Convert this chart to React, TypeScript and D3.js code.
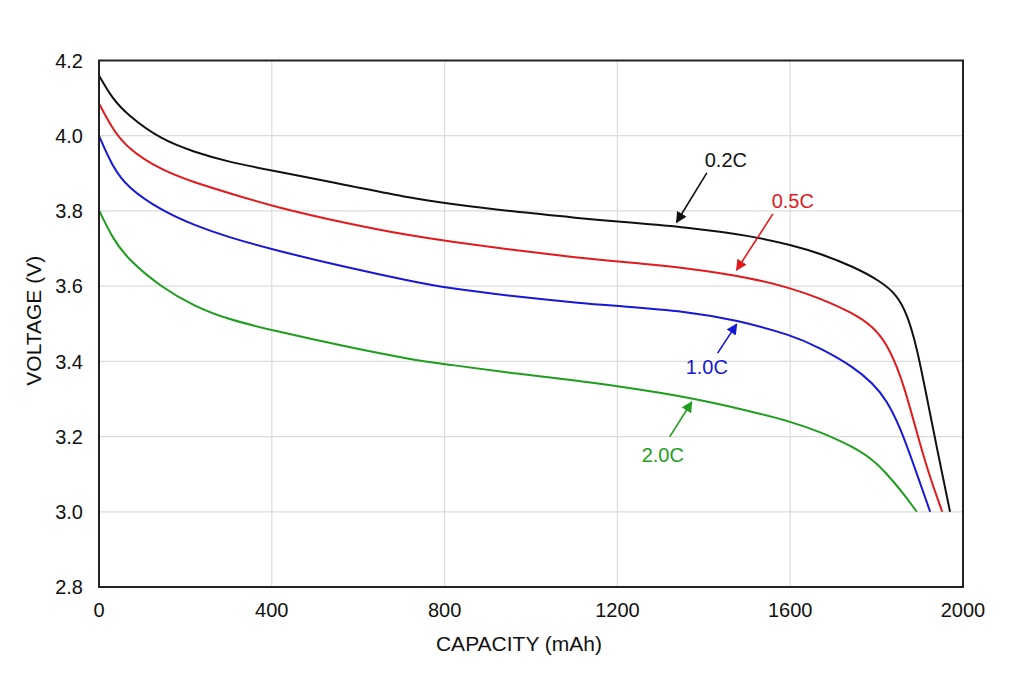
import React from 'react';
import * as d3 from 'd3';

// discharge curves, capacity in mAh vs voltage in V
const capacity02 = [0, 30, 66, 143, 220, 297, 406, 572, 726, 806, 958, 1112, 1205, 1360, 1514, 1603, 1669, 1746, 1808, 1846, 1870, 1893, 1916, 1939, 1970];
const voltage02 = [4.16, 4.1, 4.055, 3.99, 3.957, 3.931, 3.906, 3.869, 3.833, 3.82, 3.798, 3.781, 3.771, 3.757, 3.733, 3.709, 3.687, 3.652, 3.614, 3.578, 3.528, 3.439, 3.306, 3.173, 3.0];

const capacity05 = [0, 30, 66, 143, 220, 297, 406, 572, 726, 806, 958, 1112, 1205, 1360, 1514, 1603, 1669, 1746, 1792, 1823, 1854, 1877, 1900, 1923, 1952];
const voltage05 = [4.086, 4.02, 3.966, 3.909, 3.876, 3.849, 3.811, 3.767, 3.733, 3.72, 3.696, 3.675, 3.665, 3.649, 3.621, 3.594, 3.568, 3.528, 3.492, 3.448, 3.368, 3.279, 3.182, 3.093, 3.0];

const capacity10 = [0, 30, 66, 143, 220, 297, 406, 572, 726, 806, 958, 1112, 1205, 1360, 1475, 1603, 1669, 1746, 1792, 1823, 1854, 1885, 1924];
const voltage10 = [4.0, 3.92, 3.862, 3.802, 3.762, 3.731, 3.696, 3.65, 3.612, 3.595, 3.573, 3.555, 3.547, 3.533, 3.51, 3.47, 3.436, 3.386, 3.341, 3.297, 3.226, 3.128, 3.0];

const capacity20 = [0, 30, 66, 143, 220, 297, 410, 572, 726, 806, 958, 1112, 1205, 1360, 1514, 1603, 1669, 1746, 1792, 1823, 1862, 1893];
const voltage20 = [3.802, 3.73, 3.672, 3.598, 3.547, 3.512, 3.48, 3.439, 3.404, 3.392, 3.368, 3.348, 3.333, 3.306, 3.266, 3.239, 3.213, 3.173, 3.138, 3.102, 3.049, 3.0];

const xTicks = [0, 400, 800, 1200, 1600, 2000];
const yTicks = [2.8, 3.0, 3.2, 3.4, 3.6, 3.8, 4.0, 4.2];

const seriesNames = ['0.2C', '0.5C', '1.0C', '2.0C'];
const seriesColors = ['#111111', '#e3191c', '#1717d9', '#1d9e1d'];

// label callouts: [text cap, text volt, tail cap, tail volt, tip cap, tip volt]
const callouts = [
  [1451, 3.917, 1407, 3.901, 1337, 3.77],
  [1606, 3.808, 1560, 3.792, 1476, 3.643],
  [1407, 3.366, 1432, 3.422, 1476, 3.499],
  [1305, 3.132, 1321, 3.199, 1372, 3.292],
];

const W = 1024;
const H = 683;
const left = 99;
const right = 963;
const top = 60.5;
const bottom = 587;
const font = '"Liberation Sans", Arial, sans-serif';

const App: React.FC = () => {
  const x = d3.scaleLinear().domain([0, 2000]).range([left, right]);
  const y = d3.scaleLinear().domain([2.8, 4.2]).range([bottom, top]);

  const series = [
    d3.zip(capacity02, voltage02),
    d3.zip(capacity05, voltage05),
    d3.zip(capacity10, voltage10),
    d3.zip(capacity20, voltage20),
  ];

  const line = d3
    .line<number[]>()
    .x((d) => x(d[0]))
    .y((d) => y(d[1]))
    .curve(d3.curveBasis);

  return (
    <svg
      width={W}
      height={H}
      style={{ position: 'absolute', left: 0, top: 0, background: '#fff' }}
      fontFamily={font}>
      <defs>
        {seriesColors.map((c, i) => (
          <marker
            key={i}
            id={`arrow${i}`}
            viewBox="0 0 10 10"
            refX={9}
            refY={5}
            markerWidth={11}
            markerHeight={11}
            markerUnits="userSpaceOnUse"
            orient="auto">
            <path d="M0,0 L10,5 L0,10 Z" fill={c} />
          </marker>
        ))}
      </defs>

      {/* grid */}
      {xTicks.slice(1, -1).map((t) => (
        <line key={`gx${t}`} x1={x(t)} x2={x(t)} y1={top} y2={bottom} stroke="#dcdcdc" strokeWidth={1.2} />
      ))}
      {yTicks.slice(1, -1).map((t) => (
        <line key={`gy${t}`} x1={left} x2={right} y1={y(t)} y2={y(t)} stroke="#dcdcdc" strokeWidth={1.2} />
      ))}

      {/* curves */}
      {series.map((s, i) => (
        <path key={seriesNames[i]} d={line(s) ?? ''} fill="none" stroke={seriesColors[i]} strokeWidth={2} />
      ))}

      {/* frame */}
      <rect x={left} y={top} width={right - left} height={bottom - top} fill="none" stroke="#222" strokeWidth={2} />

      {/* tick labels */}
      {xTicks.map((t) => (
        <text key={`tx${t}`} x={x(t)} y={bottom + 30} textAnchor="middle" fontSize={20} fill="#111">
          {t}
        </text>
      ))}
      {yTicks.map((t) => (
        <text key={`ty${t}`} x={left - 16} y={y(t)} dy="0.36em" textAnchor="end" fontSize={20} fill="#111">
          {t.toFixed(1)}
        </text>
      ))}

      {/* axis titles */}
      <text x={519} y={651} textAnchor="middle" fontSize={21} fill="#111">
        CAPACITY (mAh)
      </text>
      <text
        transform={`translate(41,${(top + bottom) / 2 - 3}) rotate(-90)`}
        textAnchor="middle"
        fontSize={21}
        fill="#111">
        VOLTAGE (V)
      </text>

      {/* callouts */}
      {callouts.map((c, i) => (
        <g key={`c${i}`}>
          <line
            x1={x(c[2])}
            y1={y(c[3])}
            x2={x(c[4])}
            y2={y(c[5])}
            stroke={seriesColors[i]}
            strokeWidth={1.6}
            markerEnd={`url(#arrow${i})`}
          />
          <text x={x(c[0])} y={y(c[1])} textAnchor="middle" fontSize={20} fill={seriesColors[i]}>
            {seriesNames[i]}
          </text>
        </g>
      ))}
    </svg>
  );
};

export default App;
